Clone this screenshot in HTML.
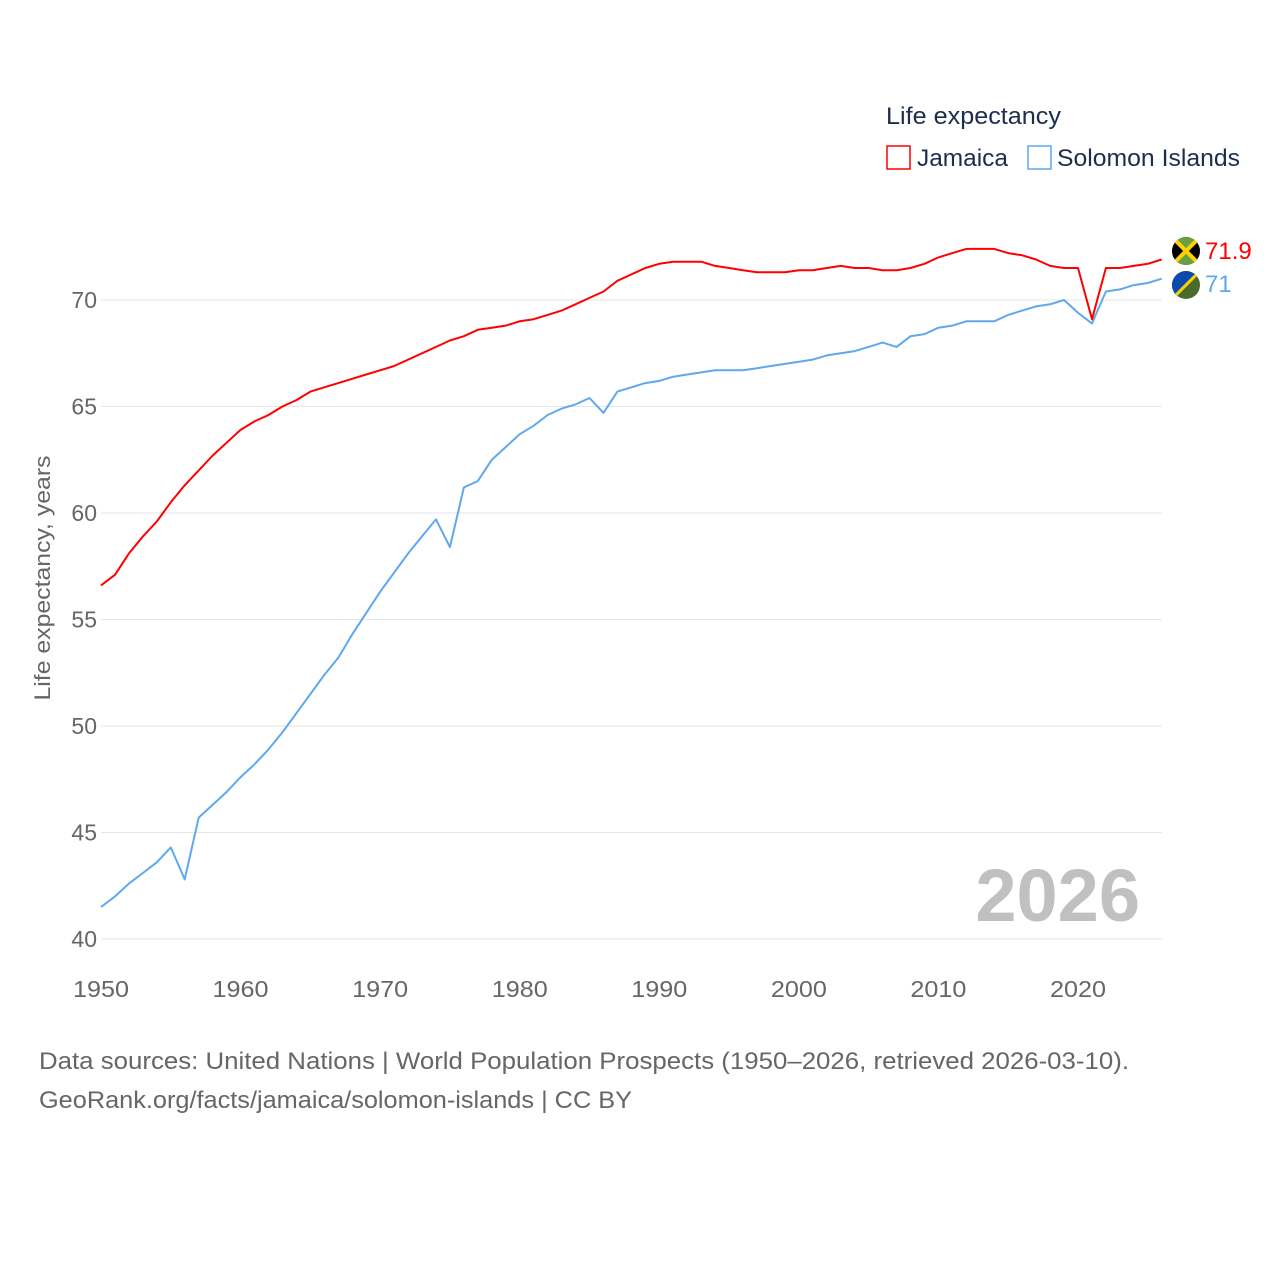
<!DOCTYPE html>
<html><head><meta charset="utf-8"><style>
body{margin:0;background:#fff;}
svg{display:block;font-family:"Liberation Sans",sans-serif;}
</style></head><body>
<svg id="chart" width="1280" height="1280" viewBox="0 0 1280 1280" xmlns="http://www.w3.org/2000/svg">
<g id="grid"></g>
<g id="yticks"></g>
<g id="xticks"></g>
<text transform="translate(50,578) rotate(-90)" text-anchor="middle" font-size="22" fill="#666" textLength="245" lengthAdjust="spacingAndGlyphs">Life expectancy, years</text>
<text x="1140" y="921" text-anchor="end" font-size="74" font-weight="bold" fill="#c0c0c0">2026</text>
<g>
<text x="886" y="124" font-size="24" fill="#1d2d4c" textLength="175" lengthAdjust="spacingAndGlyphs">Life expectancy</text>
<rect x="887" y="146" width="23" height="23" fill="none" stroke="#ff0000" stroke-width="1.5"/>
<text x="917" y="166" font-size="24" fill="#1d2d4c" textLength="91" lengthAdjust="spacingAndGlyphs">Jamaica</text>
<rect x="1028" y="146" width="23" height="23" fill="none" stroke="#5ea9ee" stroke-width="1.5"/>
<text x="1057" y="166" font-size="24" fill="#1d2d4c" textLength="183" lengthAdjust="spacingAndGlyphs">Solomon Islands</text>
</g>
<g id="series"></g>
<g>
<g>
<clipPath id="cj"><circle cx="1186" cy="251" r="14"/></clipPath>
<g clip-path="url(#cj)"><rect x="1172" y="237" width="28" height="28" fill="#000"/>
<polygon points="1172,237 1200,237 1186,251" fill="#6aa043"/><polygon points="1172,265 1200,265 1186,251" fill="#6aa043"/>
<line x1="1172" y1="237" x2="1200" y2="265" stroke="#fed100" stroke-width="4"/><line x1="1200" y1="237" x2="1172" y2="265" stroke="#fed100" stroke-width="4"/></g></g>
<text x="1205" y="259" font-size="24" fill="#ff0000">71.9</text>
<g>
<clipPath id="cs"><circle cx="1186" cy="285" r="14"/></clipPath>
<g clip-path="url(#cs)"><rect x="1172" y="271" width="28" height="28" fill="#4a6b2e"/>
<polygon points="1172,271 1200,271 1172,299" fill="#0c4ab0"/>
<line x1="1200" y1="271" x2="1172" y2="299" stroke="#fed100" stroke-width="3"/></g></g>
<text x="1205" y="292" font-size="24" fill="#5ea9ee">71</text>
</g>
<text x="39" y="1069" font-size="24" fill="#666" textLength="1090" lengthAdjust="spacingAndGlyphs">Data sources: United Nations | World Population Prospects (1950–2026, retrieved 2026-03-10).</text>
<text x="39" y="1108" font-size="24" fill="#666" textLength="593" lengthAdjust="spacingAndGlyphs">GeoRank.org/facts/jamaica/solomon-islands | CC BY</text>
</svg>
<script>
const years = [];
for (let y = 1950; y <= 2026; y++) years.push(y);
const jamaica = [56.6,57.1,58.1,58.9,59.6,60.5,61.3,62.0,62.7,63.3,63.9,64.3,64.6,65.0,65.3,65.7,65.9,66.1,66.3,66.5,66.7,66.9,67.2,67.5,67.8,68.1,68.3,68.6,68.7,68.8,69.0,69.1,69.3,69.5,69.8,70.1,70.4,70.9,71.2,71.5,71.7,71.8,71.8,71.8,71.6,71.5,71.4,71.3,71.3,71.3,71.4,71.4,71.5,71.6,71.5,71.5,71.4,71.4,71.5,71.7,72.0,72.2,72.4,72.4,72.4,72.2,72.1,71.9,71.6,71.5,71.5,69.1,71.5,71.5,71.6,71.7,71.9];
const solomon = [41.5,42.0,42.6,43.1,43.6,44.3,42.8,45.7,46.3,46.9,47.6,48.2,48.9,49.7,50.6,51.5,52.4,53.2,54.3,55.3,56.3,57.2,58.1,58.9,59.7,58.4,61.2,61.5,62.5,63.1,63.7,64.1,64.6,64.9,65.1,65.4,64.7,65.7,65.9,66.1,66.2,66.4,66.5,66.6,66.7,66.7,66.7,66.8,66.9,67.0,67.1,67.2,67.4,67.5,67.6,67.8,68.0,67.8,68.3,68.4,68.7,68.8,69.0,69.0,69.0,69.3,69.5,69.7,69.8,70.0,69.4,68.9,70.4,70.5,70.7,70.8,71.0];
const yTicks = [40,45,50,55,60,65,70];
const xTicks = [1950,1960,1970,1980,1990,2000,2010,2020];

const NS = 'http://www.w3.org/2000/svg';
const X = v => 101 + (v - 1950) * (977 / 70);
const Y = v => 939 - (v - 40) * (639 / 30);
function mk(tag, attrs, parent) { const e = document.createElementNS(NS, tag); for (const k in attrs) e.setAttribute(k, attrs[k]); parent.appendChild(e); return e; }
const grid = document.getElementById('grid'), yt = document.getElementById('yticks'), xt = document.getElementById('xticks'), ser = document.getElementById('series');
yTicks.forEach(t => {
  const l = mk('line', {x1: 101, x2: 1162, y1: Y(t), y2: Y(t), stroke: '#e6e6e6', 'stroke-width': 1}, grid);
  
  
  const tx = mk('text', {x: 97, y: Y(t) + 8, 'text-anchor': 'end', 'font-size': 23, fill: '#666'}, yt);
  tx.textContent = t;
  
  
});
xTicks.forEach(t => {
  const tx = mk('text', {x: X(t), y: 997, 'text-anchor': 'middle', 'font-size': 23, fill: '#666', textLength: 56, lengthAdjust: 'spacingAndGlyphs'}, xt);
  tx.textContent = t;
  
  
});
function line(vals, color, name) {
  const d = vals.map((v, i) => (i ? 'L' : 'M') + X(years[i]).toFixed(1) + ',' + Y(v).toFixed(1)).join('');
  const p = mk('path', {d: d, fill: 'none', stroke: color, 'stroke-width': 2, 'stroke-linejoin': 'round'}, ser);
  
  
}
line(solomon, '#5ea9ee', 'solomon-islands-line');
line(jamaica, '#ff0000', 'jamaica-line');
</script>
</body></html>
